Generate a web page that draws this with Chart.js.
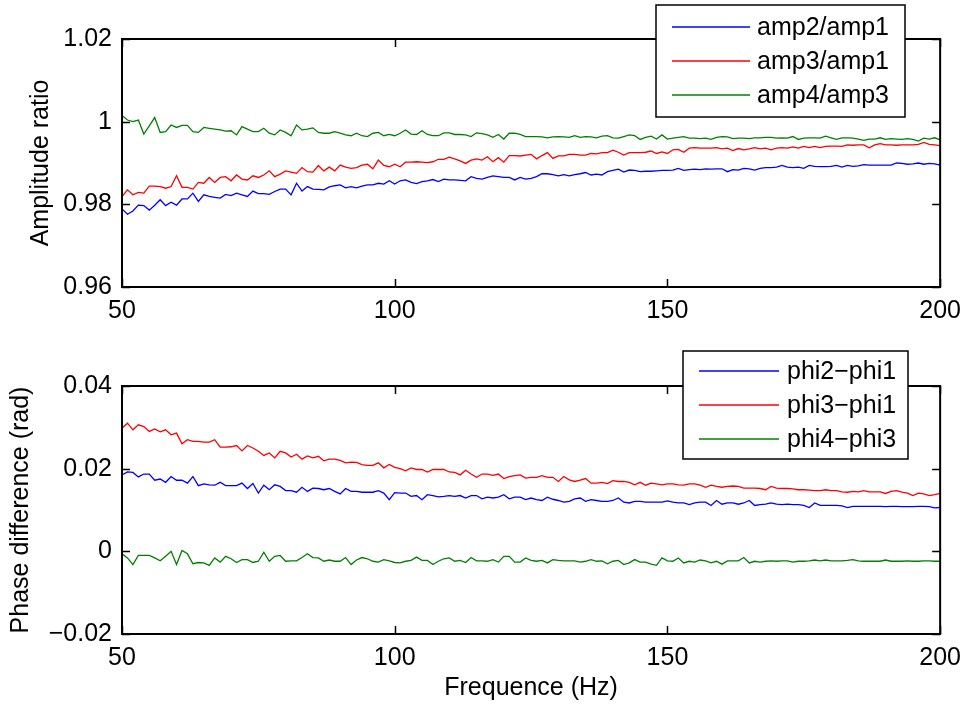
<!DOCTYPE html>
<html>
<head>
<meta charset="utf-8">
<script src="https://cdn.jsdelivr.net/npm/chart.js@4.4.1/dist/chart.umd.min.js"></script>
<style>
  html, body { margin: 0; padding: 0; background: #fff; }
  #wrap { position: relative; width: 970px; height: 706px; }
  #wrap canvas { position: absolute; left: 0; top: 0; }
</style>
</head>
<body>
<div id="wrap">
  <canvas id="ampChart" width="970" height="706"></canvas>
  <canvas id="phaseChart" width="970" height="706"></canvas>
</div>
<script>
// frequency axis (Hz)
const freq = [
  50,51,52,53,54,55,56,57,58,59,60,61,62,63,64,65,66,67,68,69,70,71,72,73,74,75,76,77,78,79,
  80,81,82,83,84,85,86,87,88,89,90,91,92,93,94,95,96,97,98,99,100,101,102,103,104,105,106,107,108,109,
  110,111,112,113,114,115,116,117,118,119,120,121,122,123,124,125,126,127,128,129,130,131,132,133,134,135,136,137,138,139,
  140,141,142,143,144,145,146,147,148,149,150,151,152,153,154,155,156,157,158,159,160,161,162,163,164,165,166,167,168,169,
  170,171,172,173,174,175,176,177,178,179,180,181,182,183,184,185,186,187,188,189,190,191,192,193,194,195,196,197,198,199,200
];

// amplitude ratios
const amp21 = [
  0.9789,0.9776,0.9784,0.9798,0.9797,0.9786,0.9798,0.9811,0.9797,0.9805,0.9798,0.9813,0.9813,0.9827,0.9807,0.9823,0.9819,0.9817,0.9815,0.9824,
  0.9821,0.9827,0.9823,0.9819,0.9832,0.9826,0.9826,0.9824,0.9831,0.9837,0.9837,0.9823,0.9851,0.9832,0.9843,0.9837,0.9836,0.9835,0.9842,0.9845,
  0.9847,0.9840,0.9843,0.9840,0.9844,0.9847,0.9847,0.9851,0.9849,0.9857,0.9849,
  0.9857,0.9859,0.9853,0.9850,0.9855,0.9857,0.9860,0.9855,0.9861,0.9859,0.9859,0.9858,0.9857,0.9867,0.9863,0.9861,0.9865,0.9869,0.9867,0.9865,
  0.9865,0.9859,0.9865,0.9861,0.9863,0.9867,0.9874,0.9874,0.9872,0.9869,0.9872,0.9869,0.9872,0.9874,0.9877,0.9871,0.9873,0.9871,0.9879,0.9882,
  0.9885,0.9878,0.9883,0.9882,0.9879,0.9880,0.9880,0.9881,0.9882,0.9882,
  0.9883,0.9887,0.9882,0.9884,0.9885,0.9884,0.9886,0.9885,0.9886,0.9886,0.9879,0.9884,0.9883,0.9887,0.9886,0.9883,0.9887,0.9889,0.9889,0.9890,
  0.9894,0.9890,0.9889,0.9890,0.9887,0.9894,0.9892,0.9891,0.9891,0.9892,0.9894,0.9890,0.9894,0.9892,0.9893,0.9896,0.9895,0.9895,0.9895,0.9895,
  0.9895,0.9900,0.9899,0.9897,0.9898,0.9900,0.9897,0.9899,0.9898,0.9895
];
const amp31 = [
  0.9819,0.9835,0.9823,0.9829,0.9827,0.9844,0.9844,0.9843,0.9839,0.9843,0.9869,0.9841,0.9841,0.9837,0.9853,0.9851,0.9865,0.9853,0.9865,0.9867,
  0.9857,0.9871,0.9861,0.9859,0.9869,0.9865,0.9871,0.9881,0.9867,0.9873,0.9881,0.9878,0.9875,0.9889,0.9879,0.9878,0.9894,0.9881,0.9890,0.9881,
  0.9895,0.9890,0.9887,0.9889,0.9895,0.9897,0.9886,0.9907,0.9894,0.9891,0.9897,
  0.9891,0.9902,0.9902,0.9903,0.9902,0.9901,0.9903,0.9909,0.9909,0.9914,0.9910,0.9905,0.9899,0.9907,0.9910,0.9907,0.9915,0.9903,0.9913,0.9902,
  0.9918,0.9918,0.9917,0.9919,0.9921,0.9910,0.9918,0.9925,0.9911,0.9917,0.9917,0.9921,0.9921,0.9919,0.9919,0.9923,0.9922,0.9925,0.9925,0.9931,
  0.9926,0.9919,0.9925,0.9925,0.9925,0.9926,0.9929,0.9923,0.9927,0.9923,
  0.9932,0.9933,0.9926,0.9936,0.9937,0.9936,0.9936,0.9936,0.9937,0.9934,0.9936,0.9930,0.9935,0.9932,0.9934,0.9937,0.9934,0.9936,0.9932,0.9936,
  0.9937,0.9936,0.9939,0.9936,0.9940,0.9937,0.9940,0.9937,0.9940,0.9941,0.9941,0.9940,0.9944,0.9943,0.9944,0.9944,0.9937,0.9944,0.9947,0.9944,
  0.9944,0.9943,0.9944,0.9944,0.9944,0.9945,0.9950,0.9945,0.9944,0.9942
];
const amp43 = [
  1.0015,1.0004,1.0000,1.0004,0.9970,0.9990,1.0010,0.9974,0.9976,0.9992,0.9986,0.9991,0.9991,0.9976,0.9974,0.9986,0.9984,0.9982,0.9980,0.9977,
  0.9978,0.9968,0.9988,0.9982,0.9976,0.9976,0.9984,0.9972,0.9968,0.9980,0.9974,0.9966,0.9992,0.9980,0.9982,0.9985,0.9974,0.9972,0.9972,0.9976,
  0.9972,0.9968,0.9966,0.9972,0.9966,0.9964,0.9972,0.9974,0.9966,0.9969,0.9966,
  0.9972,0.9980,0.9970,0.9969,0.9978,0.9969,0.9966,0.9966,0.9973,0.9973,0.9969,0.9969,0.9968,0.9964,0.9973,0.9971,0.9968,0.9962,0.9969,0.9958,
  0.9972,0.9972,0.9969,0.9964,0.9964,0.9964,0.9963,0.9961,0.9963,0.9964,0.9963,0.9962,0.9966,0.9962,0.9964,0.9963,0.9961,0.9965,0.9966,0.9961,
  0.9960,0.9964,0.9968,0.9966,0.9957,0.9962,0.9965,0.9958,0.9968,0.9958,
  0.9960,0.9962,0.9964,0.9960,0.9960,0.9959,0.9960,0.9957,0.9962,0.9964,0.9963,0.9959,0.9960,0.9960,0.9959,0.9961,0.9961,0.9962,0.9962,0.9960,
  0.9961,0.9960,0.9964,0.9957,0.9960,0.9961,0.9961,0.9960,0.9965,0.9961,0.9957,0.9961,0.9961,0.9960,0.9958,0.9955,0.9958,0.9958,0.9961,0.9957,
  0.9959,0.9958,0.9957,0.9959,0.9957,0.9953,0.9960,0.9958,0.9961,0.9956
];

// phase differences (rad)
const phi21 = [
  0.0185,0.0192,0.0191,0.0180,0.0187,0.0187,0.0172,0.0175,0.0167,0.0181,0.0172,0.0172,0.0165,0.0181,0.0159,0.0163,0.0161,0.0160,0.0167,0.0159,
  0.0159,0.0159,0.0165,0.0152,0.0164,0.0141,0.0160,0.0149,0.0161,0.0157,0.0147,0.0147,0.0143,0.0155,0.0145,0.0153,0.0152,0.0149,0.0152,0.0145,
  0.0139,0.0152,0.0145,0.0145,0.0143,0.0143,0.0143,0.0147,0.0141,0.0125,0.0142,
  0.0141,0.0141,0.0133,0.0135,0.0125,0.0137,0.0135,0.0132,0.0133,0.0135,0.0133,0.0135,0.0129,0.0135,0.0135,0.0127,0.0131,0.0129,0.0131,0.0137,
  0.0127,0.0131,0.0131,0.0125,0.0129,0.0125,0.0123,0.0131,0.0126,0.0123,0.0119,0.0121,0.0127,0.0129,0.0121,0.0125,0.0123,0.0121,0.0121,0.0123,
  0.0129,0.0119,0.0117,0.0121,0.0121,0.0119,0.0119,0.0119,0.0119,0.0122,
  0.0119,0.0117,0.0117,0.0113,0.0117,0.0119,0.0119,0.0111,0.0123,0.0114,0.0117,0.0117,0.0114,0.0117,0.0123,0.0111,0.0113,0.0114,0.0117,0.0114,
  0.0113,0.0114,0.0113,0.0113,0.0111,0.0106,0.0117,0.0111,0.0111,0.0111,0.0111,0.0110,0.0106,0.0109,0.0109,0.0109,0.0109,0.0109,0.0109,0.0108,
  0.0109,0.0109,0.0108,0.0108,0.0108,0.0109,0.0109,0.0108,0.0105,0.0106
];
const phi31 = [
  0.0298,0.0310,0.0294,0.0306,0.0302,0.0290,0.0296,0.0289,0.0294,0.0282,0.0286,0.0260,0.0270,0.0266,0.0266,0.0264,0.0264,0.0270,0.0252,0.0252,
  0.0253,0.0256,0.0243,0.0256,0.0250,0.0242,0.0232,0.0238,0.0226,0.0242,0.0238,0.0228,0.0235,0.0223,0.0231,0.0226,0.0230,0.0219,0.0223,0.0223,
  0.0220,0.0214,0.0216,0.0215,0.0210,0.0208,0.0208,0.0214,0.0202,0.0210,0.0203,
  0.0200,0.0195,0.0202,0.0198,0.0198,0.0192,0.0198,0.0198,0.0198,0.0192,0.0191,0.0185,0.0196,0.0187,0.0179,0.0187,0.0187,0.0184,0.0187,0.0176,
  0.0181,0.0183,0.0185,0.0177,0.0179,0.0179,0.0183,0.0179,0.0179,0.0169,0.0181,0.0173,0.0169,0.0172,0.0176,0.0165,0.0165,0.0167,0.0164,0.0171,
  0.0169,0.0169,0.0167,0.0161,0.0167,0.0160,0.0165,0.0163,0.0161,0.0163,
  0.0163,0.0161,0.0160,0.0163,0.0163,0.0160,0.0155,0.0160,0.0157,0.0155,0.0157,0.0158,0.0157,0.0153,0.0153,0.0153,0.0152,0.0149,0.0157,0.0153,
  0.0152,0.0152,0.0151,0.0149,0.0149,0.0148,0.0147,0.0147,0.0149,0.0147,0.0147,0.0144,0.0143,0.0145,0.0144,0.0147,0.0144,0.0144,0.0144,0.0140,
  0.0145,0.0147,0.0143,0.0141,0.0135,0.0141,0.0139,0.0135,0.0137,0.0140
];
const phi43 = [
  -0.0006,-0.0016,-0.0032,-0.0010,-0.0010,-0.0010,-0.0016,-0.0023,-0.0012,0.0000,-0.0032,0.0002,-0.0006,-0.0030,-0.0027,-0.0028,-0.0034,-0.0016,-0.0026,-0.0012,
  -0.0018,-0.0027,-0.0020,-0.0020,-0.0027,-0.0024,-0.0002,-0.0024,-0.0012,-0.0010,-0.0024,-0.0023,-0.0023,-0.0015,-0.0006,-0.0015,-0.0016,-0.0024,-0.0021,-0.0024,
  -0.0024,-0.0015,-0.0032,-0.0021,-0.0015,-0.0018,-0.0024,-0.0026,-0.0020,-0.0023,-0.0027,
  -0.0028,-0.0024,-0.0022,-0.0014,-0.0022,-0.0022,-0.0032,-0.0024,-0.0018,-0.0016,-0.0024,-0.0022,-0.0027,-0.0015,-0.0023,-0.0023,-0.0024,-0.0020,-0.0026,-0.0012,
  -0.0012,-0.0026,-0.0026,-0.0016,-0.0022,-0.0024,-0.0022,-0.0028,-0.0020,-0.0022,-0.0023,-0.0023,-0.0023,-0.0026,-0.0024,-0.0020,-0.0024,-0.0023,-0.0030,-0.0024,
  -0.0022,-0.0032,-0.0028,-0.0020,-0.0026,-0.0026,-0.0031,-0.0034,-0.0016,-0.0023,
  -0.0024,-0.0016,-0.0028,-0.0024,-0.0026,-0.0021,-0.0023,-0.0028,-0.0024,-0.0031,-0.0023,-0.0023,-0.0023,-0.0015,-0.0028,-0.0024,-0.0026,-0.0024,-0.0023,-0.0024,
  -0.0023,-0.0023,-0.0026,-0.0024,-0.0024,-0.0023,-0.0021,-0.0023,-0.0021,-0.0023,-0.0023,-0.0023,-0.0022,-0.0020,-0.0023,-0.0024,-0.0024,-0.0024,-0.0024,-0.0021,
  -0.0024,-0.0024,-0.0024,-0.0023,-0.0024,-0.0024,-0.0023,-0.0023,-0.0024,-0.0024
];

const ampLabels = ["amp2/amp1", "amp3/amp1", "amp4/amp3"];
const phaseLabels = ["phi2\u2212phi1", "phi3\u2212phi1", "phi4\u2212phi3"];
const colors = ["#0000ff", "#ff0000", "#008000"];

const FONT = "'Liberation Sans', Arial, Helvetica, sans-serif";
const FS = 25;

function pts(ys) {
  return freq.map((f, i) => ({x: f, y: ys[i]}));
}

function minusFmt(v) {
  return String(Number(v.toFixed(4))).replace('-', '\u2212');
}

// MATLAB-ish box: frame, inward ticks on all four sides, boxed legend
const matlabBox = {
  id: 'matlabBox',
  afterDatasetsDraw(chart, args, opts) {
    const {ctx, chartArea: a, scales: {x, y}} = chart;
    ctx.save();
    ctx.strokeStyle = '#000';
    ctx.lineWidth = 1.5;
    ctx.beginPath();
    x.ticks.forEach(t => {
      const px = Math.round(x.getPixelForValue(t.value)) + 0.5;
      ctx.moveTo(px, a.bottom); ctx.lineTo(px, a.bottom - 8);
      ctx.moveTo(px, a.top); ctx.lineTo(px, a.top + 8);
    });
    y.ticks.forEach(t => {
      const py = Math.round(y.getPixelForValue(t.value)) + 0.5;
      ctx.moveTo(a.left, py); ctx.lineTo(a.left + 8, py);
      ctx.moveTo(a.right, py); ctx.lineTo(a.right - 8, py);
    });
    ctx.stroke();
    ctx.lineWidth = 2;
    ctx.strokeRect(a.left, a.top, a.width, a.height);

    const L = opts.legend;
    ctx.fillStyle = '#fff';
    ctx.fillRect(L.x, L.y, L.w, L.h);
    ctx.lineWidth = 1.5;
    ctx.strokeRect(L.x, L.y, L.w, L.h);
    ctx.font = FS + 'px ' + FONT;
    ctx.textBaseline = 'middle';
    chart.data.datasets.forEach((ds, i) => {
      const ry = L.y + L.first + i * L.gap;
      ctx.strokeStyle = ds.borderColor;
      ctx.lineWidth = 1.3;
      ctx.beginPath();
      ctx.moveTo(L.x + L.line0, ry); ctx.lineTo(L.x + L.line1, ry);
      ctx.stroke();
      ctx.fillStyle = '#000';
      ctx.fillText(ds.label, L.x + L.text, ry + 1);
    });
    ctx.restore();
  }
};

function makeChart(id, series, labels, yMin, yMax, yTitle, xTitle, pad, xH, yTitlePad, legend) {
  return new Chart(id, {
    type: 'line',
    data: {
      datasets: series.map((s, i) => ({
        label: labels[i],
        data: pts(s),
        borderColor: colors[i],
        borderWidth: 1.3,
        pointRadius: 0,
        tension: 0,
        fill: false
      }))
    },
    options: {
      responsive: false,
      animation: false,
      events: [],
      layout: {padding: pad},
      plugins: {
        legend: {display: false},
        tooltip: {enabled: false},
        matlabBox: {legend: legend}
      },
      scales: {
        x: {
          type: 'linear',
          min: 50, max: 200,
          grid: {display: false, drawTicks: false},
          border: {display: false},
          ticks: {stepSize: 50, padding: 9, color: '#000', font: {family: FONT, size: FS}, maxRotation: 0},
          title: {display: !!xTitle, text: xTitle || '', color: '#000', font: {family: FONT, size: FS}, padding: {top: 0, bottom: 3}},
          afterFit(s) { s.height = xH; }
        },
        y: {
          min: yMin, max: yMax,
          grid: {display: false, drawTicks: false},
          border: {display: false},
          ticks: {stepSize: 0.02, padding: 10, color: '#000', font: {family: FONT, size: FS}, callback: v => minusFmt(v)},
          title: {display: true, text: yTitle, color: '#000', font: {family: FONT, size: FS}, padding: {top: yTitlePad, bottom: 0}},
          afterFit(s) { s.width = 122; }
        }
      }
    },
    plugins: [matlabBox]
  });
}

makeChart('ampChart', [amp21, amp31, amp43], ampLabels, 0.96, 1.02,
  'Amplitude ratio', null,
  {left: 0, right: 26, top: 39, bottom: 379}, 40, 26,
  {x: 656, y: 5, w: 249, h: 112, first: 22, gap: 34, line0: 16, line1: 94, text: 101});

makeChart('phaseChart', [phi21, phi31, phi43], phaseLabels, -0.02, 0.04,
  'Phase difference (rad)', 'Frequence (Hz)',
  {left: 0, right: 26, top: 386, bottom: 0}, 72, 6,
  {x: 683, y: 351, w: 225, h: 108, first: 20, gap: 34, line0: 16, line1: 96, text: 104});
</script>
</body>
</html>
